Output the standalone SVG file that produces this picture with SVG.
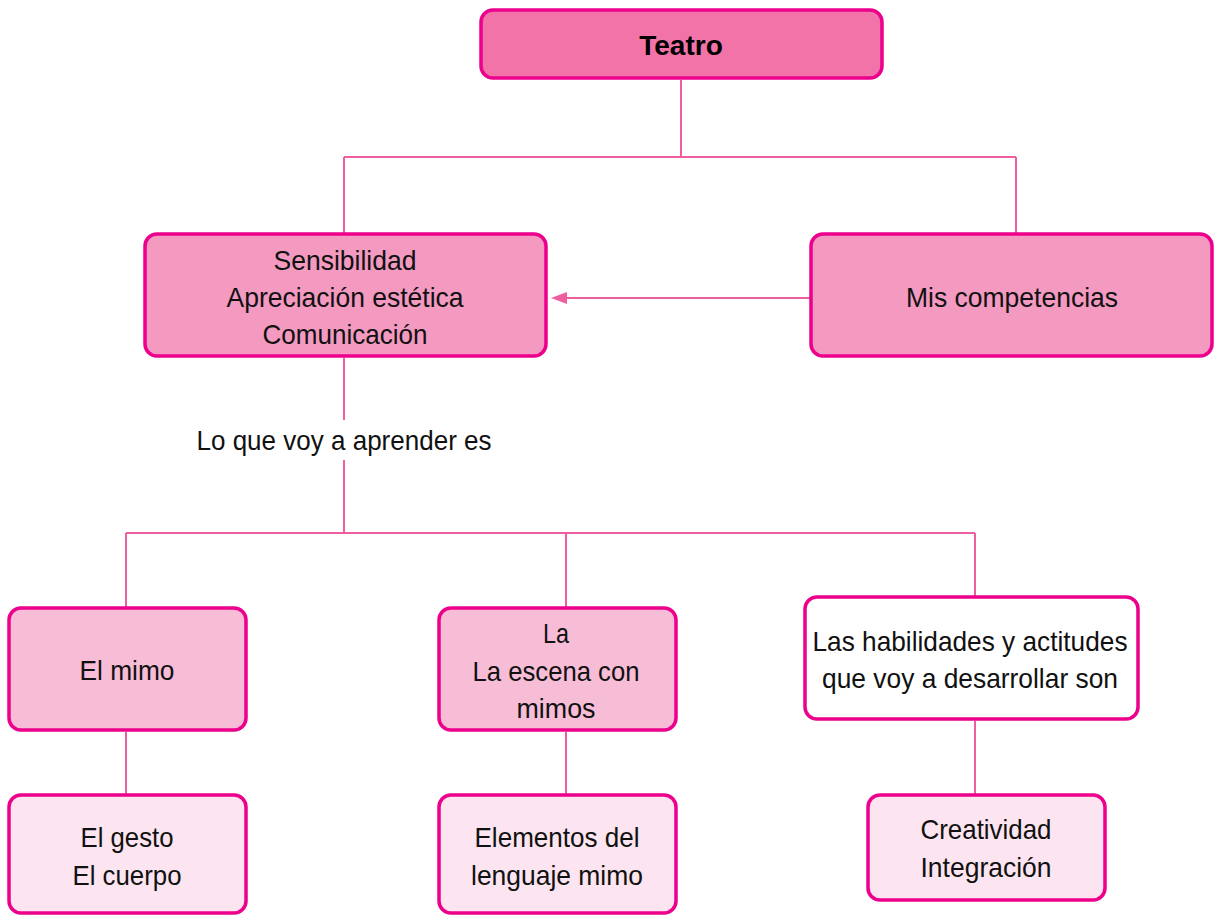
<svg xmlns="http://www.w3.org/2000/svg" width="1214" height="917" viewBox="0 0 1214 917">
<style>
.box{stroke:#EC008C;stroke-width:3.5}
.l1{fill:#F173A8}
.l2{fill:#F49AC1}
.l3{fill:#F7BDD7}
.l4{fill:#FCE5F0}
.lw{fill:#FFFFFF}
.t{font-family:"Liberation Sans",Arial,sans-serif;font-size:28px;fill:#111;text-anchor:middle}
.tb{font-family:"Liberation Sans",Arial,sans-serif;font-size:28px;font-weight:bold;fill:#000;text-anchor:middle}
.c{fill:none;stroke:#EE5FA0;stroke-width:2}
</style>
<defs>
<marker id="arr" viewBox="0 0 16 12" refX="1" refY="6" markerWidth="16" markerHeight="12" markerUnits="userSpaceOnUse" orient="auto-start-reverse">
<path d="M0,0 L16,6 L0,12 Z" fill="#EE5FA0"/>
</marker>
</defs>
<rect width="1214" height="917" fill="#FFFFFF"/>
<g id="connectors">
<path class="c" d="M681,80 V157 M344,157 H1016 M344,157 V234 M1016,157 V234"/>
<path class="c" d="M811,298 H566" marker-end="url(#arr)"/>
<path class="c" d="M344,358 V420 M344,460 V533 M126,533 H975 M126,533 V608 M566,533 V608 M975,533 V597"/>
<path class="c" d="M126,732 V795 M566,732 V795 M975,721 V795"/>
</g>
<g id="teatro">
<rect class="box l1" x="481" y="10" width="401" height="68" rx="12"/>
<text class="tb" x="681" y="55">Teatro</text>
</g>
<g id="sensibilidad">
<rect class="box l2" x="145" y="234" width="401" height="122" rx="12"/>
<text class="t" x="345" y="270" textLength="143" lengthAdjust="spacingAndGlyphs">Sensibilidad</text>
<text class="t" x="345" y="307" textLength="237" lengthAdjust="spacingAndGlyphs">Apreciación estética</text>
<text class="t" x="345" y="344" textLength="165" lengthAdjust="spacingAndGlyphs">Comunicación</text>
</g>
<g id="competencias">
<rect class="box l2" x="811" y="234" width="401" height="122" rx="12"/>
<text class="t" x="1012" y="307" textLength="212" lengthAdjust="spacingAndGlyphs">Mis competencias</text>
</g>
<g id="label-aprender">
<text class="t" x="344" y="450" textLength="295" lengthAdjust="spacingAndGlyphs">Lo que voy a aprender es</text>
</g>
<g id="mimo">
<rect class="box l3" x="9" y="608" width="237" height="122" rx="12"/>
<text class="t" x="127" y="680" textLength="95" lengthAdjust="spacingAndGlyphs">El mimo</text>
</g>
<g id="escena">
<rect class="box l3" x="439" y="608" width="237" height="122" rx="12"/>
<text class="t" x="556" y="643" textLength="26" lengthAdjust="spacingAndGlyphs">La</text>
<text class="t" x="556" y="681" textLength="167" lengthAdjust="spacingAndGlyphs">La escena con</text>
<text class="t" x="556" y="718" textLength="79" lengthAdjust="spacingAndGlyphs">mimos</text>
</g>
<g id="habilidades">
<rect class="box lw" x="805" y="597" width="333" height="122" rx="12"/>
<text class="t" x="970" y="651" textLength="315" lengthAdjust="spacingAndGlyphs">Las habilidades y actitudes</text>
<text class="t" x="970" y="688" textLength="296" lengthAdjust="spacingAndGlyphs">que voy a desarrollar son</text>
</g>
<g id="gesto">
<rect class="box l4" x="9" y="795" width="237" height="118" rx="12"/>
<text class="t" x="127" y="847" textLength="93" lengthAdjust="spacingAndGlyphs">El gesto</text>
<text class="t" x="127" y="885" textLength="109" lengthAdjust="spacingAndGlyphs">El cuerpo</text>
</g>
<g id="elementos">
<rect class="box l4" x="439" y="795" width="237" height="118" rx="12"/>
<text class="t" x="557" y="847" textLength="165" lengthAdjust="spacingAndGlyphs">Elementos del</text>
<text class="t" x="557" y="885" textLength="172" lengthAdjust="spacingAndGlyphs">lenguaje mimo</text>
</g>
<g id="creatividad">
<rect class="box l4" x="868" y="795" width="237" height="105" rx="12"/>
<text class="t" x="986" y="839" textLength="131" lengthAdjust="spacingAndGlyphs">Creatividad</text>
<text class="t" x="986" y="877" textLength="131" lengthAdjust="spacingAndGlyphs">Integración</text>
</g>
</svg>
